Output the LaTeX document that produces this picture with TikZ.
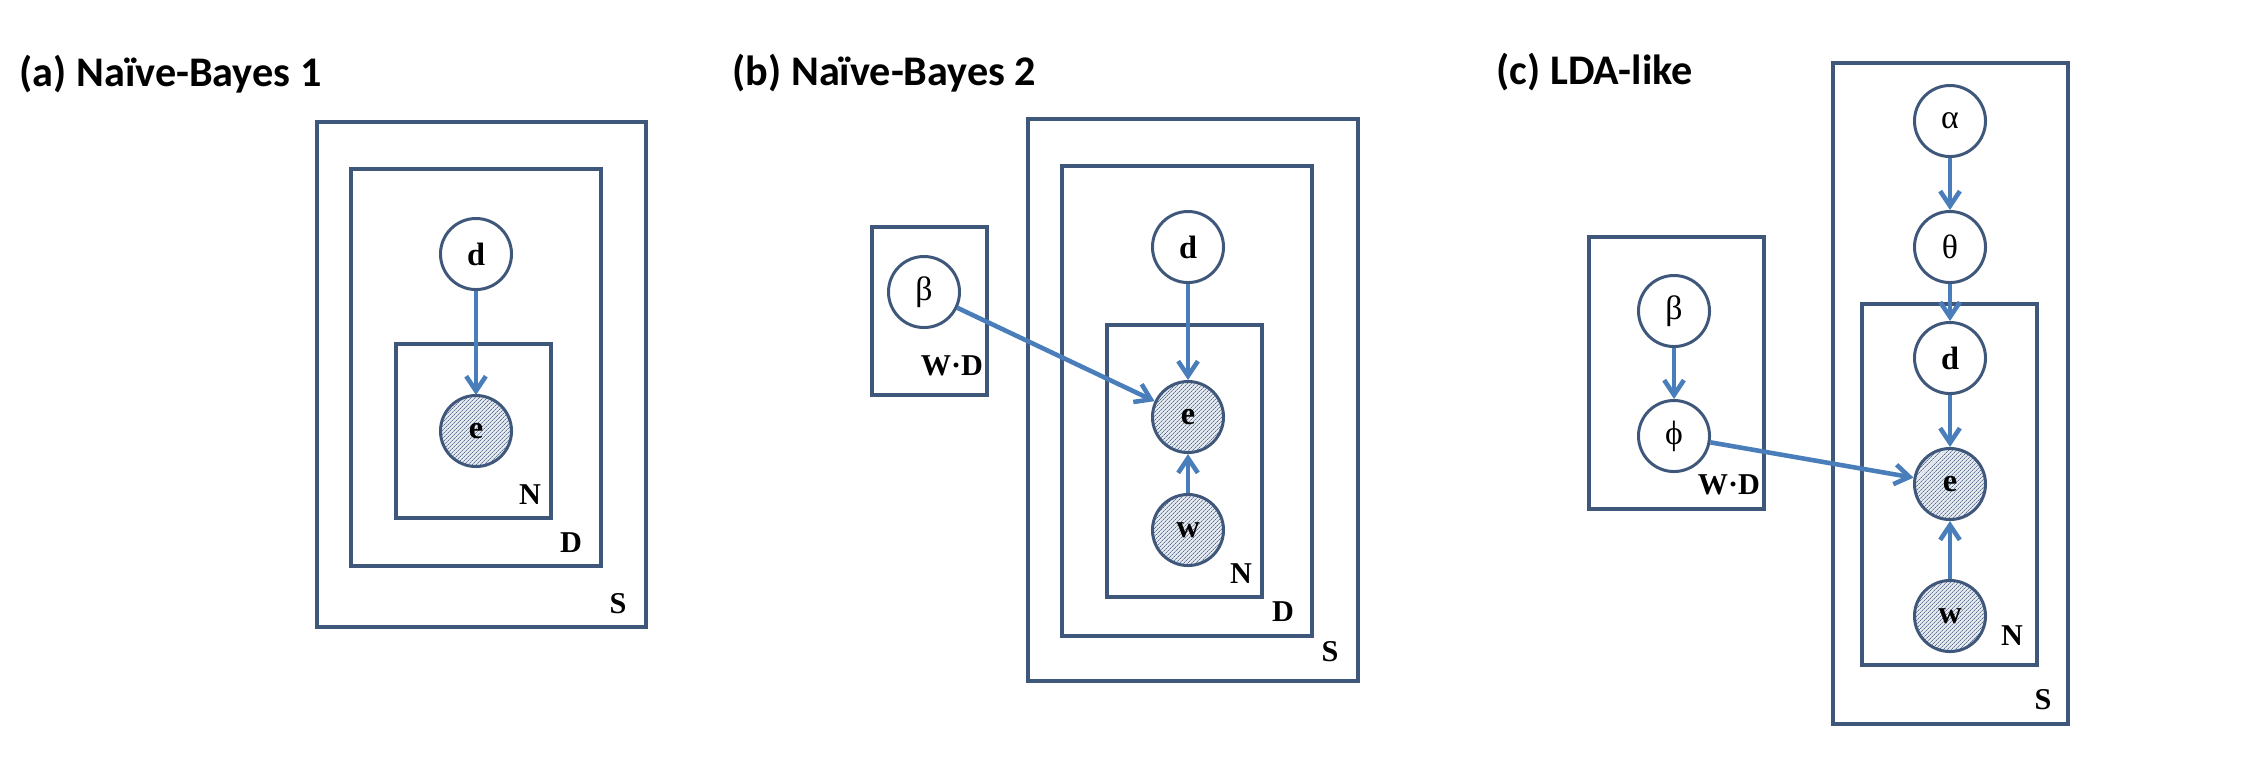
\documentclass[tikz,border=0pt]{standalone}
\usepackage{fontspec}
\setmainfont{Liberation Serif}
\newfontfamily\titlefont{Carlito}
\usetikzlibrary{arrows.meta,patterns.meta}
\definecolor{boxc}{HTML}{3E577A}
\definecolor{arrc}{HTML}{4A7EBB}
\definecolor{hatchbg}{HTML}{E6EBF2}
\definecolor{hatchfg}{HTML}{5C7090}
\begin{document}
\begin{tikzpicture}[x=0.01cm,y=-0.01cm,
  plate/.style={draw=boxc,line width=0.95pt},
  var/.style={circle,draw=boxc,line width=0.85pt,minimum size=0.71cm,inner sep=0pt,font=\fontsize{9.2}{10}\selectfont\bfseries},
  obs/.style={var,preaction={fill=hatchbg},pattern={Lines[angle=45,distance=0.9pt,line width=0.25pt]},pattern color=hatchfg},
  grk/.style={var,font=\fontsize{9.6}{10}\selectfont},
  plab/.style={font=\fontsize{8.6}{10}\selectfont\bfseries,inner sep=0pt},
  ttl/.style={font=\titlefont\fontsize{12}{14}\selectfont\bfseries,inner sep=0pt,anchor=west},
  edge/.style={draw=arrc,line width=1.3pt,-{Straight Barb[length=4.2pt,width=5.6pt]}}
]
\useasboundingbox (0,0) rectangle (2268,756);
% (a)
\node[ttl] (at) at (19,74) {(a) Naïve-Bayes 1};
\draw[plate] (317,122) rectangle (646,627);
\draw[plate] (351,169) rectangle (601,566);
\draw[plate] (396,344) rectangle (551,518);
\node[var] (ad) at (476,254) {d};
\node[obs] (ae) at (476,431) {e};
\draw[edge] (ad) -- (ae);
\node[plab] (aN) at (530,495) {N};
\node[plab] (aD) at (571,543) {D};
\node[plab] (aS) at (618,604) {S};
% (b)
\node[ttl] (bt) at (732,73) {(b) Naïve-Bayes 2};
\draw[plate] (1028,119) rectangle (1358,681);
\draw[plate] (1062,166) rectangle (1312,636);
\draw[plate] (1107,325) rectangle (1262,597);
\draw[plate] (872,227) rectangle (987,395);
\node[var] (bd) at (1188,247) {d};
\node[obs] (be) at (1188,417) {e};
\node[obs] (bw) at (1188,530) {w};
\node[grk] (bb) at (924,292) {β};
\draw[edge] (bd) -- (be);
\draw[edge] (bw) -- (be);
\draw[edge] (bb) -- (be);
\node[plab] (bN) at (1241,574) {N};
\node[plab] (bD) at (1283,612) {D};
\node[plab] (bS) at (1330,652) {S};
\node[plab] (bWD) at (952,366) {W·D};
% (c)
\node[ttl] (ct) at (1496,72) {(c) LDA-like};
\draw[plate] (1833,63) rectangle (2068,724);
\draw[plate] (1862,304) rectangle (2037,665);
\draw[plate] (1589,237) rectangle (1764,509);
\node[grk] (ca) at (1950,121) {α};
\node[grk] (cth) at (1950,247) {θ};
\node[var] (cd) at (1950,358) {d};
\node[obs] (ce) at (1950,484) {e};
\node[obs] (cw) at (1950,616) {w};
\node[grk] (cb) at (1674,311) {β};
\node[grk] (cp) at (1674,436) {ϕ};
\draw[edge] (ca) -- (cth);
\draw[edge] (cth) -- (cd);
\draw[edge] (cd) -- (ce);
\draw[edge] (cw) -- (ce);
\draw[edge] (cb) -- (cp);
\draw[edge] (cp) -- (ce);
\node[plab] (cN) at (2012,636) {N};
\node[plab] (cS) at (2043,700) {S};
\node[plab] (cWD) at (1729,485) {W·D};
\end{tikzpicture}
\end{document}
